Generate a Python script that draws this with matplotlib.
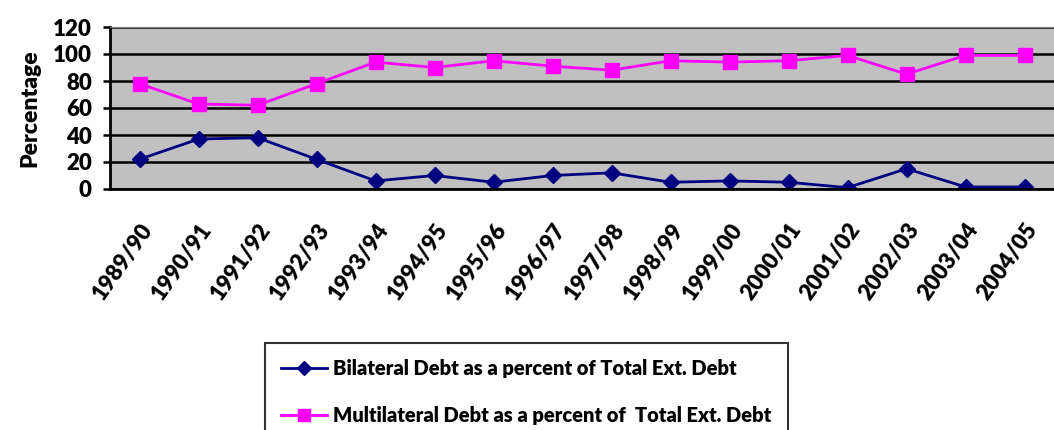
import numpy as np
import matplotlib.pyplot as plt

years = ['1989/90', '1990/91', '1991/92', '1992/93', '1993/94', '1994/95',
         '1995/96', '1996/97', '1997/98', '1998/99', '1999/00', '2000/01',
         '2001/02', '2002/03', '2003/04', '2004/05']
bilateral = [22, 37, 38, 22, 6, 10, 5, 10, 12, 5, 6, 5, 1, 15, 1.5, 1.5]
multilateral = [78, 63, 62, 78, 94, 90, 95, 91, 88, 95, 94, 95, 99, 85, 99, 99]

plt.rcParams['font.family'] = ['Lato', 'DejaVu Sans']
plt.rcParams['font.weight'] = 'heavy'

fig = plt.figure(figsize=(10.54, 4.3), dpi=100)
ax = fig.add_axes([110/1054, 241/430, 944/1054, 162/430])
ax.set_facecolor('#c0c0c0')

x = np.arange(len(years))
l1, = ax.plot(x, bilateral, color='#000080', lw=2, marker='D', ms=8.5,
              label='Bilateral Debt as a percent of Total Ext. Debt')
l2, = ax.plot(x, multilateral, color='#ff00ff', lw=2, marker='s', ms=10,
              label='Multilateral Debt as a percent of  Total Ext. Debt')

ax.set_xlim(-0.5, len(years) - 0.5)
ax.set_ylim(0, 120)
ax.set_yticks(range(0, 121, 20))
ax.yaxis.grid(True, color='black', lw=1.8)
ax.set_axisbelow(True)
ax.set_xticks(x)
ax.set_xticklabels(years, rotation=55, ha='right', rotation_mode='anchor',
                   fontsize=16, fontweight='heavy')
ax.tick_params(axis='x', length=0, pad=22)
ax.tick_params(axis='y', labelsize=16, length=5, width=1.8, pad=8)
for t in ax.get_yticklabels():
    t.set_fontweight('heavy')
ax.set_ylabel('Percentage', fontsize=16.5, fontweight='heavy', labelpad=9)

ax.spines['left'].set_linewidth(2)
ax.spines['bottom'].set_linewidth(2)
ax.spines['top'].set_color('#808080')
ax.spines['right'].set_visible(False)

# legend box runs off the bottom edge of the figure
leg = fig.legend(handles=[l1, l2], loc='upper left',
                 bbox_to_anchor=(265/1054, 1 - 343/430),
                 prop={'size': 14.5, 'weight': 'heavy'}, frameon=True,
                 fancybox=False, edgecolor='black', handlelength=2.3,
                 handletextpad=0.3, borderpad=0.8, borderaxespad=0,
                 labelspacing=1.4, markerscale=0.8)
leg.get_frame().set_linewidth(1.5)

fig.savefig('out.png', dpi=100)
